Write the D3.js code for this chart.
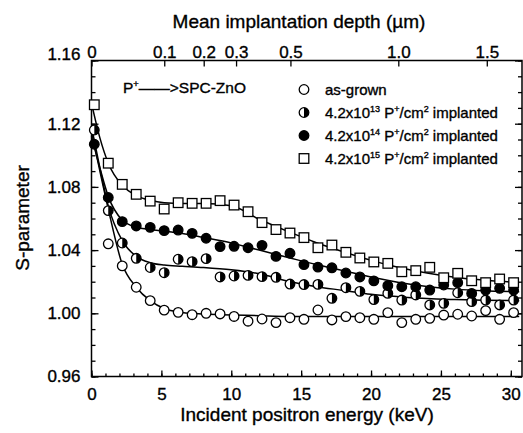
<!DOCTYPE html>
<html>
<head>
<meta charset="utf-8">
<script src="https://cdn.jsdelivr.net/npm/d3@7"></script>
<style>
  body { margin: 0; background: #fff; }
  svg { display: block; }
  text { font-family: "Liberation Sans", Arial, sans-serif; fill: #000; stroke: #000; stroke-width: 0.35px; }
</style>
</head>
<body>
<svg id="chart"></svg>
<script>
// measured points (keV)
const energy = [0.2, 1.2, 2.2, 3.2, 4.2, 5.2, 6.2, 7.2, 8.2, 9.2, 10.2, 11.2, 12.2, 13.2, 14.2, 15.2,
                16.2, 17.2, 18.2, 19.2, 20.2, 21.2, 22.2, 23.2, 24.2, 25.2, 26.2, 27.2, 28.2, 29.2, 30.2];

const sAsGrown = [null, 1.044, 1.030, 1.0165, 1.008, 1.002, 1.0006, 0.9991, 1.000, 0.9996, 0.998, 0.995,
                  0.9964, 0.9941, 0.9972, 0.9962, 1.0021, 0.9958, 0.9979, 0.9972, 0.9962, 1.0004, 0.9941,
                  0.9962, 0.9968, 0.9989, 0.9994, 0.9983, 1.0017, 0.9962, 1.0004];
const s13 = [1.116, 1.065, 1.0445, 1.0348, 1.029, 1.0257, 1.0342, 1.0327, 1.0346, 1.023, 1.0236, 1.024,
             1.0232, 1.0228, 1.0185, 1.0182, 1.0183, 1.0095, 1.0162, 1.0139, 1.0087, 1.0126, 1.0084,
             1.0116, 1.0053, 1.0063, 1.013, 1.0074, 1.0084, 1.0053, 1.0084];
const s14 = [1.107, 1.0733, 1.058, 1.0553, 1.0544, 1.0523, 1.0527, 1.0506, 1.0475, 1.0422, 1.0424, 1.0415,
             1.043, 1.036, 1.038, 1.0308, 1.0292, 1.0288, 1.0255, 1.023, 1.0205, 1.0175, 1.0168, 1.0168,
             1.0147, 1.0179, 1.0194, 1.0126, 1.0147, 1.0158, 1.0147];
const s15 = [1.132, 1.095, 1.0816, 1.0753, 1.071, 1.066, 1.070, 1.0696, 1.0696, 1.0713, 1.0685, 1.0643,
             1.0574, 1.053, 1.0508, 1.0479, 1.0415, 1.0432, 1.0386, 1.035, 1.0325, 1.0316, 1.0263, 1.027,
             1.0291, 1.0225, 1.0253, 1.0206, 1.0194, 1.0217, 1.0194];

// fitted curves
const fitEnergy = [0, 0.6, 1.2, 2.2, 3.2, 4.2, 5.2, 6.5, 8, 10, 12, 14, 16, 18, 20, 22, 24, 26, 28, 30.6];
const fitAsGrown = [1.115, 1.090, 1.066, 1.031, 1.0165, 1.008, 1.003, 1.0005, 0.9995, 0.999, 0.9985, 0.998,
                    0.998, 0.998, 0.998, 0.998, 0.998, 0.998, 0.998, 0.998];
const fit13 = [1.118, 1.092, 1.068, 1.046, 1.036, 1.032, 1.0305, 1.0298, 1.029, 1.0275, 1.025, 1.0205,
               1.017, 1.0145, 1.012, 1.0105, 1.0093, 1.0087, 1.0083, 1.008];
const fit14 = [1.112, 1.092, 1.074, 1.059, 1.0545, 1.053, 1.052, 1.0505, 1.048, 1.0445, 1.040, 1.0355,
               1.031, 1.027, 1.023, 1.0195, 1.017, 1.0153, 1.0143, 1.0137];
const fit15 = [1.133, 1.111, 1.095, 1.081, 1.0745, 1.0715, 1.070, 1.0695, 1.0695, 1.068, 1.0595, 1.052,
               1.045, 1.039, 1.0335, 1.029, 1.0255, 1.0228, 1.021, 1.0195];

// axes
const xTicks = [0, 5, 10, 15, 20, 25, 30];
const yTicks = [0.96, 1.00, 1.04, 1.08, 1.12, 1.16];
const depthTicks = [0, 0.1, 0.2, 0.3, 0.5, 1.0, 1.5];
const depthCoeff = 0.00714;   // um per keV^1.6 (ZnO)

class DepthProfile {

    constructor(config) {
        this.config = {
            parent: config.parent,
            width: config.width || 523,
            height: config.height || 433,
            margin: config.margin || {top: 60.5, right: 1, bottom: 56.5, left: 91.5}
        };
        this.init();
    }

    init() {
        let self = this;
        let m = self.config.margin;

        self.svg = d3.select(self.config.parent)
            .attr('width', self.config.width)
            .attr('height', self.config.height);

        self.chart = self.svg.append('g')
            .attr('transform', `translate(${m.left}, ${m.top})`);

        self.inner_width = self.config.width - m.left - m.right;
        self.inner_height = self.config.height - m.top - m.bottom;

        self.xscale = d3.scaleLinear().domain([0, 30.8]).range([0, self.inner_width]);
        self.yscale = d3.scaleLinear().domain([0.96, 1.16]).range([self.inner_height, 0]);
        // mean depth = coeff * E^1.6  ->  position grows as depth^(1/1.6)
        self.depthscale = d3.scalePow().exponent(1 / 1.6)
            .domain([0, depthCoeff * Math.pow(30.8, 1.6)])
            .range([0, self.inner_width]);
    }

    render() {
        let self = this;
        const W = self.inner_width, H = self.inner_height;

        // ticks
        const minorX = d3.range(0, 31, 1);
        const minorY = d3.range(0.96, 1.1601, 0.01);

        self.chart.append('g').attr('transform', `translate(0,${H})`)
            .call(d3.axisBottom(self.xscale).tickValues(minorX).tickSize(-3).tickFormat(''));
        self.chart.append('g').attr('transform', `translate(0,${H})`)
            .call(d3.axisBottom(self.xscale).tickValues(xTicks).tickSize(-6).tickPadding(11))
            .attr('font-size', 17);

        self.chart.append('g')
            .call(d3.axisLeft(self.yscale).tickValues(minorY).tickSize(-4).tickFormat(''));
        const yg = self.chart.append('g')
            .call(d3.axisLeft(self.yscale).tickValues(yTicks).tickSize(-7).tickPadding(11)
                .tickFormat(d3.format('.2f')))
            .attr('font-size', 17);
        // top label sits a little higher in the original
        yg.selectAll('.tick text').filter(d => d === 1.16).attr('y', -6);

        self.chart.append('g').attr('transform', `translate(${W},0)`)
            .call(d3.axisRight(self.yscale).tickValues(minorY).tickSize(-4).tickFormat(''));
        self.chart.append('g').attr('transform', `translate(${W},0)`)
            .call(d3.axisRight(self.yscale).tickValues(yTicks).tickSize(-7).tickFormat(''));

        self.chart.append('g')
            .call(d3.axisTop(self.depthscale).tickValues(depthTicks).tickSize(-6).tickPadding(3)
                .tickFormat(d => d === 0 ? '0' : d3.format('.1f')(d)))
            .attr('font-size', 17);

        self.chart.selectAll('.domain').remove();
        self.chart.selectAll('.tick line').attr('stroke-width', 1.3);
        self.chart.selectAll('.tick text').attr('fill', '#000');

        self.chart.append('rect')
            .attr('width', W).attr('height', H)
            .attr('fill', 'none').attr('stroke', '#000').attr('stroke-width', 1.5);

        // fits
        const line = d3.line()
            .x(d => self.xscale(d[0]))
            .y(d => self.yscale(d[1]))
            .curve(d3.curveMonotoneX);

        [fitAsGrown, fit13, fit14, fit15].forEach(f => {
            self.chart.append('path')
                .datum(fitEnergy.map((e, i) => [e, f[i]]))
                .attr('d', line)
                .attr('fill', 'none').attr('stroke', '#000').attr('stroke-width', 1.5);
        });

        // points
        const series = [
            {vals: sAsGrown, type: 'open'},
            {vals: s13, type: 'half'},
            {vals: s14, type: 'filled'},
            {vals: s15, type: 'square'}
        ];
        series.forEach(s => {
            const pts = energy.map((e, i) => [e, s.vals[i]]).filter(d => d[1] != null);
            const g = self.chart.append('g').selectAll('g').data(pts).join('g')
                .attr('transform', d => `translate(${self.xscale(d[0])},${self.yscale(d[1])})`);
            self.symbol(g, s.type);
        });

        // legend
        const legend = self.svg.append('g').attr('transform', 'translate(304, 89.5)');
        const rows = [
            {type: 'open', parts: [['as-grown']]},
            {type: 'half', parts: [['4.2x10'], ['13', 1], [' P'], ['+', 1], ['/cm'], ['2', 1], [' implanted']]},
            {type: 'filled', parts: [['4.2x10'], ['14', 1], [' P'], ['+', 1], ['/cm'], ['2', 1], [' implanted']]},
            {type: 'square', parts: [['4.2x10'], ['15', 1], [' P'], ['+', 1], ['/cm'], ['2', 1], [' implanted']]}
        ];
        rows.forEach((r, i) => {
            const g = legend.append('g').attr('transform', `translate(0, ${i * 23})`);
            self.symbol(g, r.type);
            const t = g.append('text').attr('x', 21).attr('y', 5.5).attr('font-size', 15);
            self.richText(t, r.parts, 15);
        });

        const note = self.svg.append('text').attr('x', 123).attr('y', 93).attr('font-size', 15.5);
        self.richText(note, [['P'], ['+', 1], ['\u2014\u2014>SPC-ZnO']], 15.5);

        // titles
        self.svg.append('text')
            .attr('x', 299).attr('y', 28)
            .attr('text-anchor', 'middle').attr('font-size', 19)
            .text('Mean implantation depth (\u00b5m)');
        self.svg.append('text')
            .attr('x', 307).attr('y', 421)
            .attr('text-anchor', 'middle').attr('font-size', 19)
            .text('Incident positron energy (keV)');
        self.svg.append('text')
            .attr('transform', 'translate(29, 218) rotate(-90)')
            .attr('text-anchor', 'middle').attr('font-size', 19)
            .text('S-parameter');
    }

    richText(t, parts, fs) {
        let up = false;
        parts.forEach(p => {
            const sup = !!p[1];
            const ts = t.append('tspan').text(p[0]);
            if (sup) ts.attr('font-size', fs * 0.6);
            if (sup && !up) ts.attr('dy', -fs * 0.4);
            if (!sup && up) ts.attr('dy', fs * 0.4);
            up = sup;
        });
    }

    symbol(g, type) {
        const r = 4.8;
        if (type === 'square') {
            g.append('rect').attr('x', -4.8).attr('y', -4.8).attr('width', 9.6).attr('height', 9.6)
                .attr('fill', '#fff').attr('stroke', '#000').attr('stroke-width', 1.3);
            return;
        }
        g.append('circle').attr('r', r)
            .attr('fill', type === 'filled' ? '#000' : '#fff')
            .attr('stroke', '#000').attr('stroke-width', 1.3);
        if (type === 'half') {
            g.append('path')
                .attr('d', `M0,${-r}A${r},${r} 0 0 1 0,${r}Z`)
                .attr('fill', '#000');
        }
    }
}

const chart = new DepthProfile({parent: '#chart'});
chart.render();
</script>
</body>
</html>
